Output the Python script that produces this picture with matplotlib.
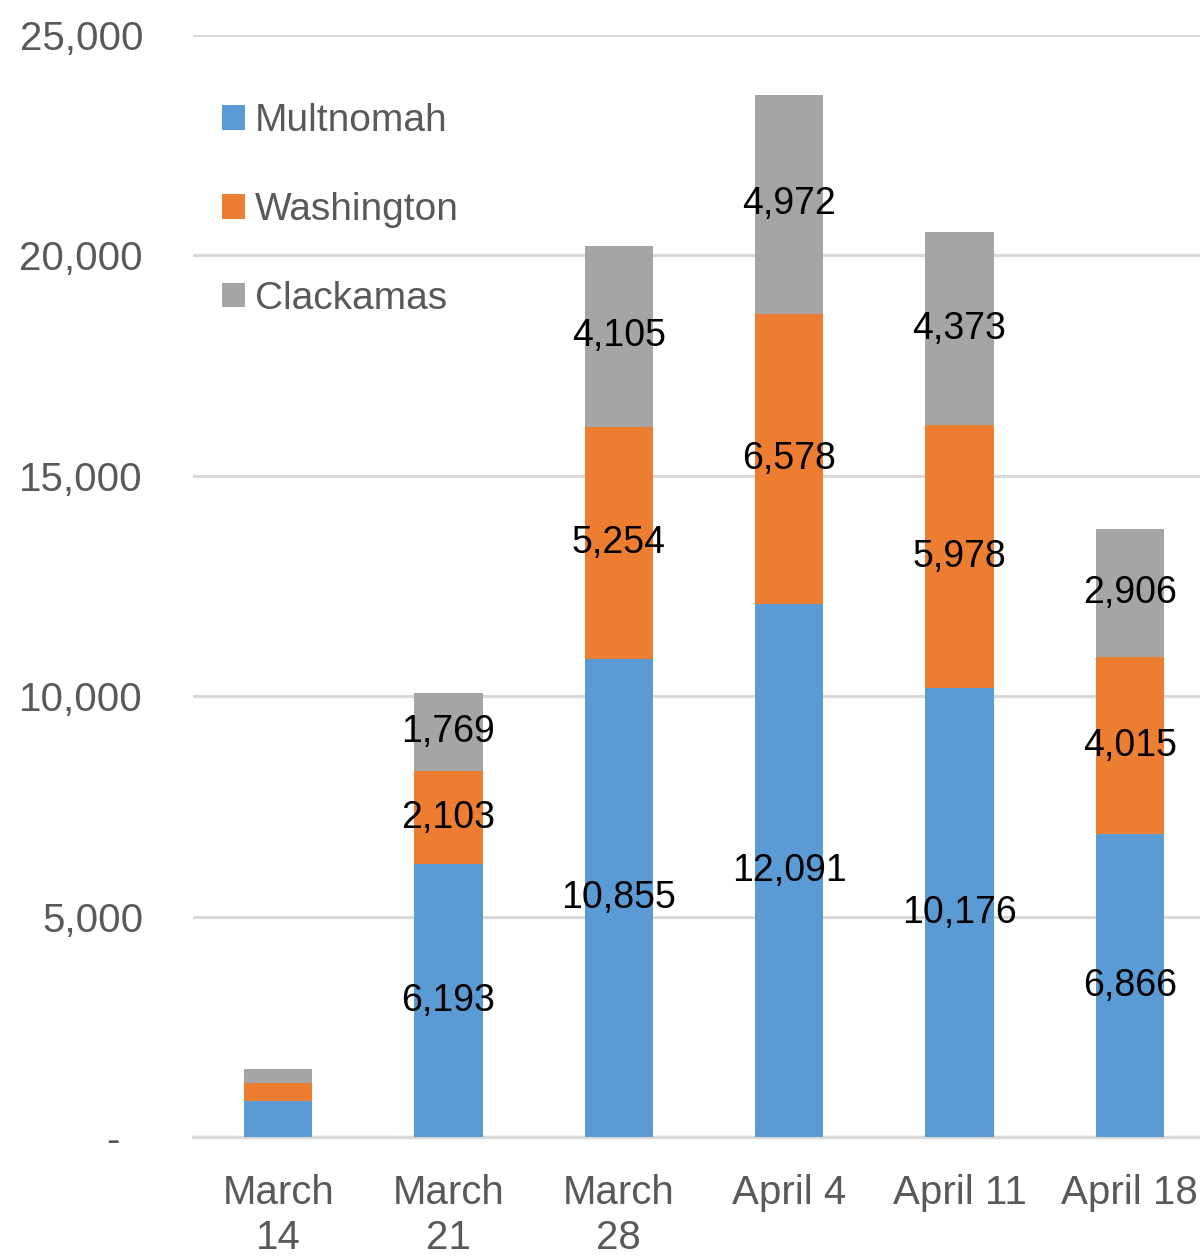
import matplotlib
matplotlib.use("Agg")
import matplotlib.pyplot as plt
import numpy as np

plt.rcParams["font.family"] = ["Liberation Sans", "DejaVu Sans"]

weeks = ["March\n14", "March\n21", "March\n28", "April 4", "April 11", "April 18"]
multnomah = [820, 6193, 10855, 12091, 10176, 6866]
washington = [410, 2103, 5254, 6578, 5978, 4015]
clackamas = [320, 1769, 4105, 4972, 4373, 2906]

series = [("Multnomah", multnomah, "#5B9BD5"),
          ("Washington", washington, "#ED7D31"),
          ("Clackamas", clackamas, "#A5A5A5")]

fig = plt.figure(figsize=(12, 12.57), dpi=100)
ax = fig.add_axes([193 / 1200, 1 - 1137 / 1257, 1022 / 1200, 1102 / 1257])

x = np.arange(len(weeks))
bottom = np.zeros(len(weeks))
for name, vals, color in series:
    bars = ax.bar(x, vals, 0.4, bottom=bottom, color=color, label=name, zorder=3)
    # March 14 has no data labels in the original
    labels = [""] + [f"{v:,}" for v in vals[1:]]
    ax.bar_label(bars, labels=labels, label_type="center", fontsize=27, color="black")
    bottom += np.array(vals)

ax.set_xlim(-0.5, 5.5)
ax.set_ylim(0, 25000)
ax.set_yticks(range(0, 25001, 5000))
ax.set_yticklabels(["-  "] + [f"{v:,}" for v in range(5000, 25001, 5000)])
ax.set_xticks(x)
ax.set_xticklabels(weeks, linespacing=1.22)
ax.tick_params(axis="both", length=0, labelsize=29, labelcolor="#595959")
ax.tick_params(axis="y", pad=36)
ax.tick_params(axis="x", pad=27)

ax.grid(axis="y", color="#D9D9D9", linewidth=2.2, zorder=0)
for side in ["top", "right", "left"]:
    ax.spines[side].set_visible(False)
ax.spines["bottom"].set_color("#D9D9D9")
ax.spines["bottom"].set_linewidth(2.5)

ax.legend(loc="upper left", bbox_to_anchor=(-0.006, 0.97), frameon=False, fontsize=28,
          labelcolor="#595959", handlelength=0.6, handleheight=0.6,
          handletextpad=0.25, labelspacing=1.36)

fig.savefig("out.png", dpi=100)
